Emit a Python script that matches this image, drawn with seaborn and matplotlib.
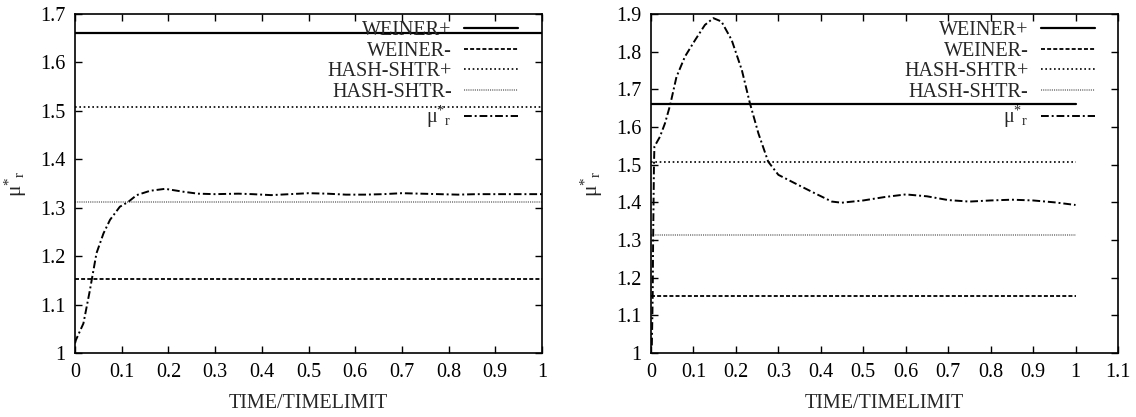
import matplotlib
matplotlib.use("Agg")
import matplotlib.pyplot as plt
import seaborn as sns
import numpy as np
import pandas as pd

# ---- data ----
series_names = ["WEINER+", "WEINER-", "HASH-SHTR+", "HASH-SHTR-"]
series_levels = [1.660, 1.152, 1.507, 1.312]
line_x_span = [0.0, 1.0]

mu_label = r"$\mathregular{μ^{*}{}_{r}}$"

left_x = [0.0, 0.002, 0.018, 0.032, 0.036, 0.046, 0.061, 0.075, 0.096, 0.114, 0.132,
          0.161, 0.193, 0.232, 0.263, 0.30, 0.35, 0.38, 0.42, 0.46, 0.50, 0.54,
          0.58, 0.62, 0.66, 0.70, 0.74, 0.78, 0.82, 0.86, 0.90, 0.95, 1.0]
left_mu = [1.020, 1.027, 1.061, 1.130, 1.152, 1.206, 1.247, 1.275, 1.302, 1.312, 1.326,
           1.335, 1.339, 1.333, 1.329, 1.328, 1.329, 1.328, 1.326, 1.328, 1.330, 1.329,
           1.327, 1.327, 1.328, 1.330, 1.329, 1.328, 1.327, 1.328, 1.328, 1.328, 1.328]

right_x = [0.002, 0.004, 0.005, 0.007, 0.008, 0.021, 0.033, 0.045, 0.060, 0.080, 0.104, 0.127,
           0.147, 0.166, 0.190, 0.214, 0.233, 0.253, 0.276, 0.300, 0.347, 0.386, 0.426,
           0.449, 0.50, 0.55, 0.60, 0.65, 0.70, 0.75, 0.80, 0.85, 0.90, 0.95, 1.0]
right_mu = [1.020, 1.150, 1.300, 1.500, 1.548, 1.574, 1.610, 1.658, 1.733, 1.787, 1.831, 1.871,
            1.889, 1.880, 1.831, 1.751, 1.663, 1.583, 1.508, 1.473, 1.446, 1.424, 1.402,
            1.399, 1.405, 1.414, 1.421, 1.416, 1.406, 1.402, 1.405, 1.407, 1.405, 1.400, 1.393]

x_ticks_left = [0, 0.1, 0.2, 0.3, 0.4, 0.5, 0.6, 0.7, 0.8, 0.9, 1]
x_ticks_right = [0, 0.1, 0.2, 0.3, 0.4, 0.5, 0.6, 0.7, 0.8, 0.9, 1, 1.1]
y_ticks_left = [1, 1.1, 1.2, 1.3, 1.4, 1.5, 1.6, 1.7]
y_ticks_right = [1, 1.1, 1.2, 1.3, 1.4, 1.5, 1.6, 1.7, 1.8, 1.9]
x_label = "TIME/TIMELIMIT"

# ---- style ----
sns.set_theme(style="ticks")
plt.rcParams["font.family"] = ["Liberation Serif", "DejaVu Serif"]
plt.rcParams["mathtext.fontset"] = "stix"
FS = 14.5

styles = {
    "WEINER+": dict(color="black", lw=1.6, ls="-"),
    "WEINER-": dict(color="black", lw=1.3, ls=(0, (2.2, 1.2))),
    "HASH-SHTR+": dict(color="black", lw=1.2, ls=(0, (1, 1.6))),
    "HASH-SHTR-": dict(color="#888888", lw=1.3, ls=(0, (0.6, 0.6))),
    "mu": dict(color="black", lw=1.4, ls=(0, (4, 1.5, 1, 1.5))),
}

fig = plt.figure(figsize=(11.36, 4.17), dpi=100)
ax1 = fig.add_axes([75 / 1136, 64 / 417, 467 / 1136, 339 / 417])
ax2 = fig.add_axes([651 / 1136, 64 / 417, 467 / 1136, 339 / 417])


def draw(ax, mx, my, xlim, ylim, xticks, yticks, legend_x):
    for name, lvl in zip(series_names, series_levels):
        df = pd.DataFrame({"x": line_x_span, "y": [lvl, lvl]})
        st = styles[name]
        sns.lineplot(data=df, x="x", y="y", ax=ax, color=st["color"], linewidth=st["lw"],
                     linestyle=st["ls"], label=name)
    dfm = pd.DataFrame({"x": mx, "y": my})
    st = styles["mu"]
    sns.lineplot(data=dfm, x="x", y="y", ax=ax, color=st["color"], linewidth=st["lw"],
                 linestyle=st["ls"], label=mu_label, sort=False)
    ax.set_xlim(*xlim)
    ax.set_ylim(*ylim)
    ax.set_xticks(xticks)
    ax.set_xticklabels([f"{t:g}" for t in xticks])
    ax.set_yticks(yticks)
    ax.set_yticklabels([f"{t:g}" for t in yticks])
    ax.tick_params(direction="in", length=5, width=1, top=True, right=True,
                   labelsize=FS, pad=7, colors="black")
    for s in ax.spines.values():
        s.set_visible(True)
        s.set_linewidth(1.2)
        s.set_color("black")
    ax.set_xlabel(x_label, fontsize=FS, labelpad=9)
    ax.set_ylabel(mu_label, fontsize=FS + 1, labelpad=8)
    ax.legend(loc="upper right", bbox_to_anchor=(legend_x, 0.98), frameon=False,
              markerfirst=False, fontsize=FS, labelspacing=0.08, handlelength=2.7,
              handletextpad=0.6, borderpad=0, borderaxespad=0)


draw(ax1, left_x, left_mu, (0, 1), (1, 1.7), x_ticks_left, y_ticks_left, 0.949)
draw(ax2, right_x, right_mu, (0, 1.1), (1, 1.9), x_ticks_right, y_ticks_right, 0.951)

fig.savefig("out.png", dpi=100, facecolor="white")
